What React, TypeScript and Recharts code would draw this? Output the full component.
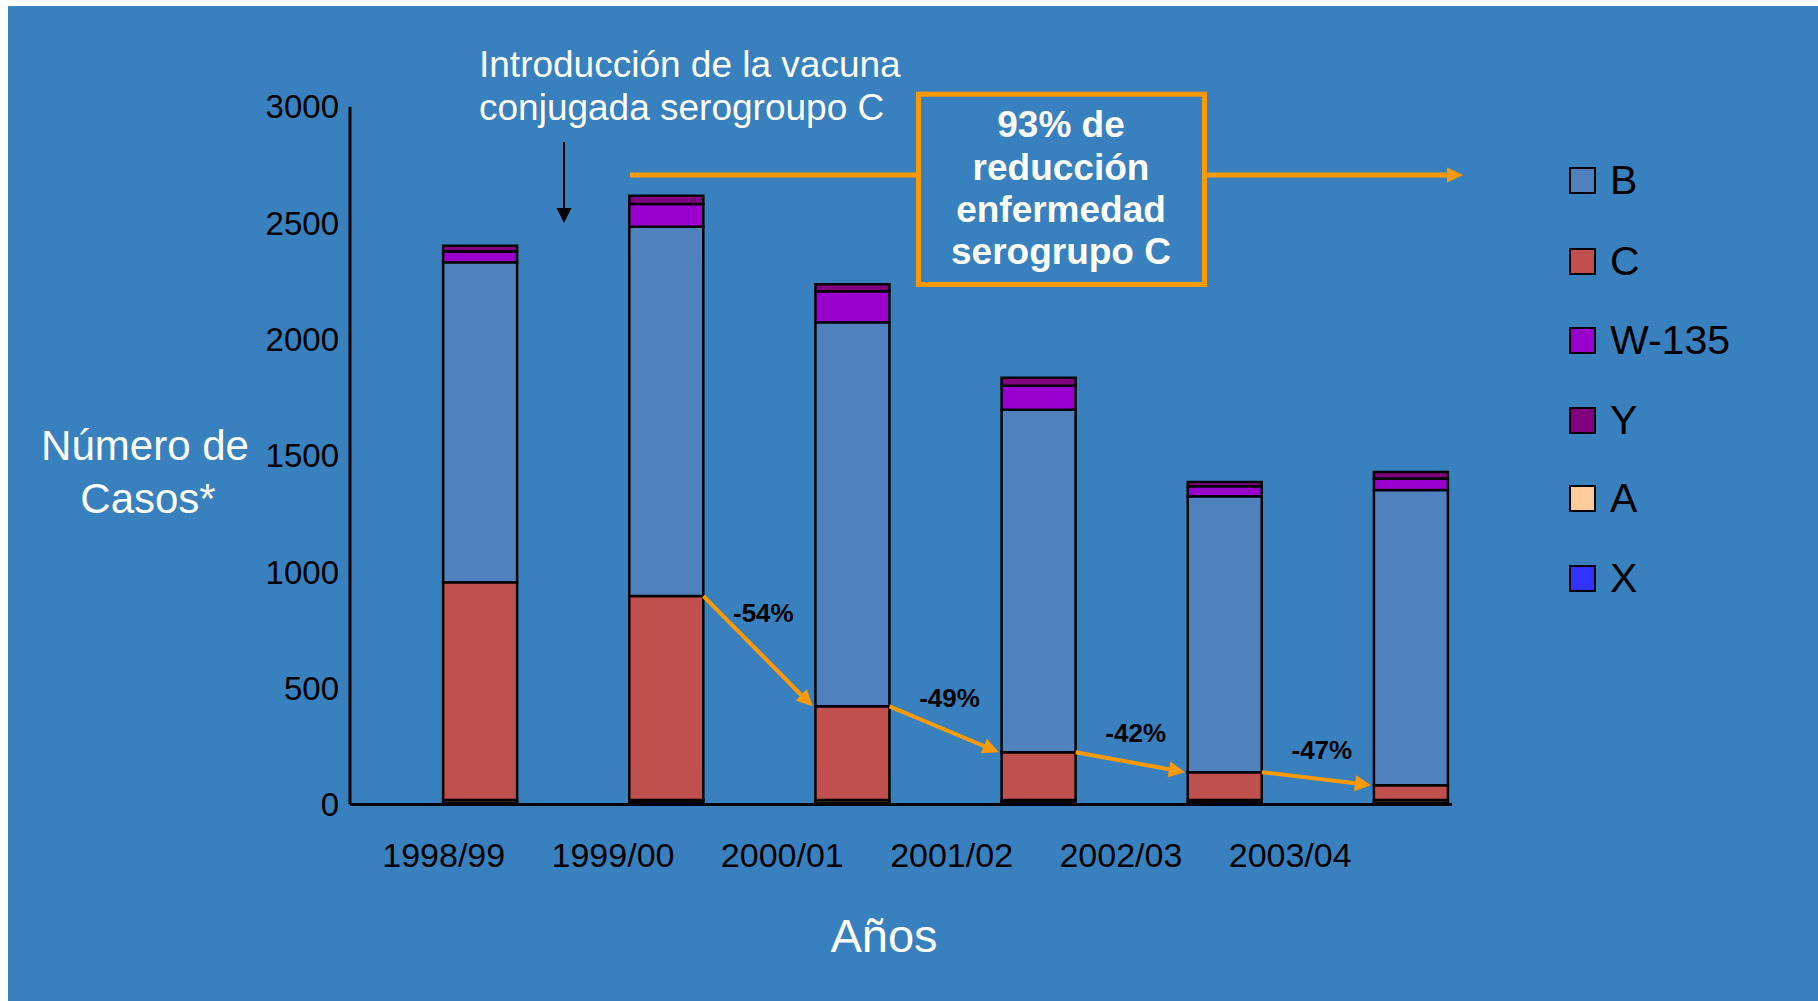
import React from "react";
import { BarChart, Bar, XAxis, YAxis, ReferenceLine } from "recharts";

const seasons = ["1998/99", "1999/00", "2000/01", "2001/02", "2002/03", "2003/04"];
const serogroupX = [8, 10, 7, 9, 10, 8];
const serogroupA = [11, 9, 12, 10, 9, 11];
const serogroupC = [936, 877, 403, 206, 120, 64];
const serogroupB = [1376, 1588, 1651, 1472, 1186, 1269];
const serogroupW135 = [47, 98, 134, 103, 43, 50];
const serogroupY = [24, 35, 30, 35, 18, 28];
const yTicks = [0, 500, 1000, 1500, 2000, 2500, 3000];

// stacking order, bottom first
const series = [
  { key: "X", color: "#3333FF", values: serogroupX },
  { key: "A", color: "#FFCC99", values: serogroupA },
  { key: "C", color: "#C0504D", values: serogroupC },
  { key: "B", color: "#4F81BD", values: serogroupB },
  { key: "W-135", color: "#9900CC", values: serogroupW135 },
  { key: "Y", color: "#800080", values: serogroupY },
];
const legendOrder = ["B", "C", "W-135", "Y", "A", "X"];

const rows = seasons.map((season, i) => {
  const row: Record<string, number | string> = { idx: i, season };
  series.forEach((s) => (row[s.key] = s.values[i]));
  return row;
});

// top of the C segment (X and A sit underneath it)
const cTop = (i: number) => serogroupX[i] + serogroupA[i] + serogroupC[i];
const pctChange = (i: number) => Math.round((serogroupC[i + 1] / serogroupC[i] - 1) * 100);
const totalReduction = Math.round((1 - serogroupC[5] / serogroupC[1]) * 100);

const W = 1810;
const H = 995;
const BG = "#3880BE";
const ORANGE = "#FF9900";
const FONT = "'Liberation Sans', Arial, sans-serif";
const BAR = 74;

function DropArrow(props: any) {
  const { x1, y1, x2, y2, text } = props;
  const sx = x1 + BAR / 2;
  const ex = x2 - BAR / 2 - 3;
  const sy = y1;
  const ey = y2;
  const ang = Math.atan2(ey - sy, ex - sx);
  const head = 16;
  const hw = 8;
  const bx = ex - head * Math.cos(ang);
  const by = ey - head * Math.sin(ang);
  const px = -Math.sin(ang) * hw;
  const py = Math.cos(ang) * hw;
  const lx = sx + 60;
  const ly = (sy + ey) / 2 - 27 - 0.1 * (ey - sy);
  return (
    <g>
      <line x1={sx} y1={sy} x2={bx} y2={by} stroke={ORANGE} strokeWidth={4} />
      <polygon points={`${ex},${ey} ${bx + px},${by + py} ${bx - px},${by - py}`} fill={ORANGE} />
      <text x={lx} y={ly} textAnchor="middle" dominantBaseline="central" fontFamily={FONT} fontWeight="bold" fontSize={26} fill="#000">
        {text}
      </text>
    </g>
  );
}

function Annotations() {
  return (
    <svg width={W} height={H} style={{ position: "absolute", left: 0, top: 0, pointerEvents: "none" }}>
      <g fontFamily={FONT} fill="#fff">
        <text x={471} y={71} fontSize={37}>Introducción de la vacuna</text>
        <text x={471} y={114} fontSize={37}>conjugada serogroupo C</text>
        <text x={137} y={454} fontSize={42} textAnchor="middle">Número de</text>
        <text x={140} y={507} fontSize={42} textAnchor="middle">Casos*</text>
        <text x={876} y={946} fontSize={47} textAnchor="middle">Años</text>
      </g>
      <line x1={556} y1={136} x2={556} y2={204} stroke="#000" strokeWidth={2} />
      <polygon points="548.5,202 563.5,202 556,217" fill="#000" />

      <line x1={622} y1={169} x2={910} y2={169} stroke={ORANGE} strokeWidth={5} />
      <line x1={1197} y1={169} x2={1440} y2={169} stroke={ORANGE} strokeWidth={5} />
      <polygon points="1439,161.5 1455,169 1439,176.5" fill={ORANGE} />
      <rect x={910.5} y={88.2} width={286} height={190.3} fill="none" stroke={ORANGE} strokeWidth={5} />
      <g fontFamily={FONT} fill="#fff" fontWeight="bold" fontSize={37} textAnchor="middle">
        <text x={1053} y={131}>{`${totalReduction}% de`}</text>
        <text x={1053} y={174}>reducción</text>
        <text x={1053} y={216}>enfermedad</text>
        <text x={1053} y={258}>serogrupo C</text>
      </g>
    </svg>
  );
}

function SerogroupLegend() {
  const centers = [174, 255, 334, 414, 492, 572];
  return (
    <div style={{ position: "absolute", left: 0, top: 0 }}>
      {legendOrder.map((key, i) => {
        const s = series.find((d) => d.key === key)!;
        return (
          <div
            key={key}
            style={{ position: "absolute", left: 1561, top: centers[i] - 25, height: 50, display: "flex", alignItems: "center", whiteSpace: "nowrap" }}
          >
            <div style={{ width: 27, height: 27, boxSizing: "border-box", border: "2.5px solid #000", background: s.color }} />
            <span style={{ marginLeft: 14, fontSize: 41, color: "#000", fontFamily: FONT }}>{key}</span>
          </div>
        );
      })}
    </div>
  );
}

export default function App() {
  return (
    <div style={{ position: "fixed", left: 8, top: 6, width: W, height: H, background: BG, fontFamily: FONT }}>
      <BarChart width={W} height={H} data={rows} barSize={BAR} margin={{ top: 100.7, right: 366, bottom: 133.5, left: 0 }}>
        <YAxis
          type="number"
          domain={[0, 3000]}
          ticks={yTicks}
          interval={0}
          allowDataOverflow
          width={342}
          tickLine={false}
          tickSize={0}
          tickMargin={11}
          axisLine={{ stroke: "#000", strokeWidth: 3 }}
          tick={{ fill: "#000", fontSize: 33, fontFamily: FONT }}
        />
        <XAxis
          xAxisId={0}
          type="number"
          dataKey="idx"
          domain={[-0.6994, 5.2203]}
          allowDataOverflow
          tick={false}
          tickLine={false}
          height={1}
          axisLine={{ stroke: "#000", strokeWidth: 3 }}
        />
        <XAxis
          xAxisId="lbl"
          type="number"
          dataKey="idx"
          domain={[-0.5535, 5.9557]}
          allowDataOverflow
          ticks={[0, 1, 2, 3, 4, 5]}
          interval={0}
          tickFormatter={(v: number) => seasons[v]}
          axisLine={false}
          tickLine={false}
          tickSize={0}
          tickMargin={37}
          height={62}
          tick={{ fill: "#000", fontSize: 34, fontFamily: FONT }}
        />
        {series.map((s) => (
          <Bar
            key={s.key}
            xAxisId={0}
            dataKey={s.key}
            stackId="serogroups"
            fill={s.color}
            stroke="#000"
            strokeWidth={2.5}
            isAnimationActive={false}
          />
        ))}
        {[1, 2, 3, 4].map((i) => (
          <ReferenceLine
            key={i}
            xAxisId={0}
            ifOverflow="visible"
            segment={[
              { x: i, y: cTop(i) },
              { x: i + 1, y: cTop(i + 1) },
            ]}
            shape={(p: any) => <DropArrow {...p} text={`${pctChange(i)}%`} />}
          />
        ))}
      </BarChart>
      <Annotations />
      <SerogroupLegend />
    </div>
  );
}
